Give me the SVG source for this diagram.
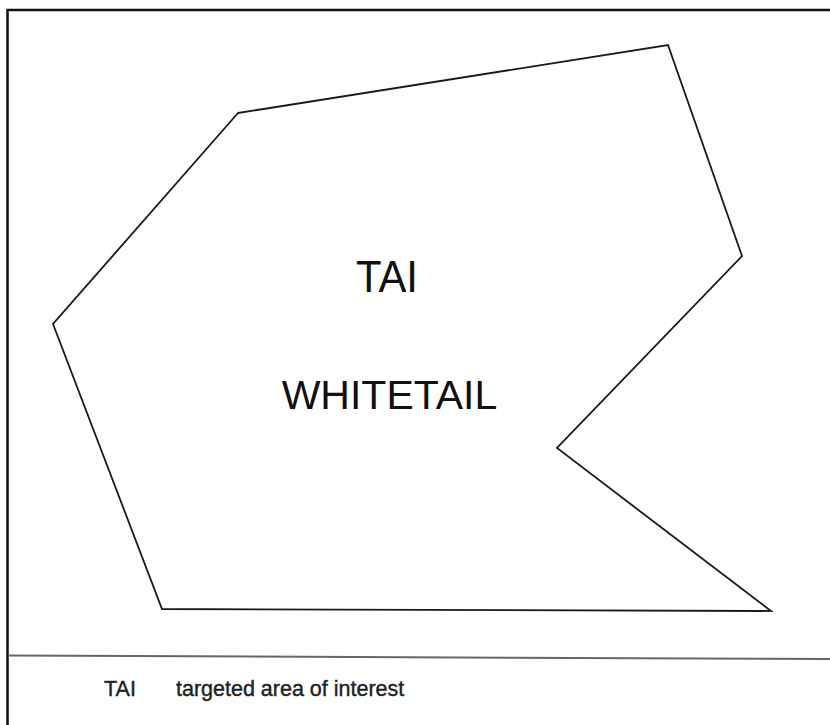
<svg xmlns="http://www.w3.org/2000/svg" width="830" height="725" viewBox="0 0 830 725">
  <style>
    .frame { fill: none; stroke: #111; stroke-width: 2.5; }
    .area { fill: none; stroke: #1a1a1a; stroke-width: 1.8; stroke-linejoin: miter; }
    .divider { stroke: #666; stroke-width: 2; }
    .big { font-family: "Liberation Sans", Arial, sans-serif; fill: #111; text-anchor: middle; }
    .legend { font-family: "Liberation Sans", Arial, sans-serif; font-size: 21.5px; fill: #222; stroke: #222; stroke-width: 0.4; }
  </style>
  <rect width="830" height="725" fill="#ffffff"/>
  <rect class="frame" x="7.5" y="10" width="840" height="740"/>
  <g id="tai-whitetail">
    <polygon class="area" points="238,113 668,45 742,256 557,448 771,611 162,609 53,324"/>
    <text class="big" x="387" y="292" font-size="44" textLength="62" lengthAdjust="spacingAndGlyphs">TAI</text>
    <text class="big" x="389.5" y="409" font-size="41">WHITETAIL</text>
  </g>
  <g id="connectors"></g>
  <line class="divider" x1="8" y1="655.5" x2="830" y2="659"/>
  <g id="legend">
    <text class="legend" x="104" y="696">TAI</text>
    <text class="legend" x="176" y="696">targeted area of interest</text>
  </g>
</svg>
